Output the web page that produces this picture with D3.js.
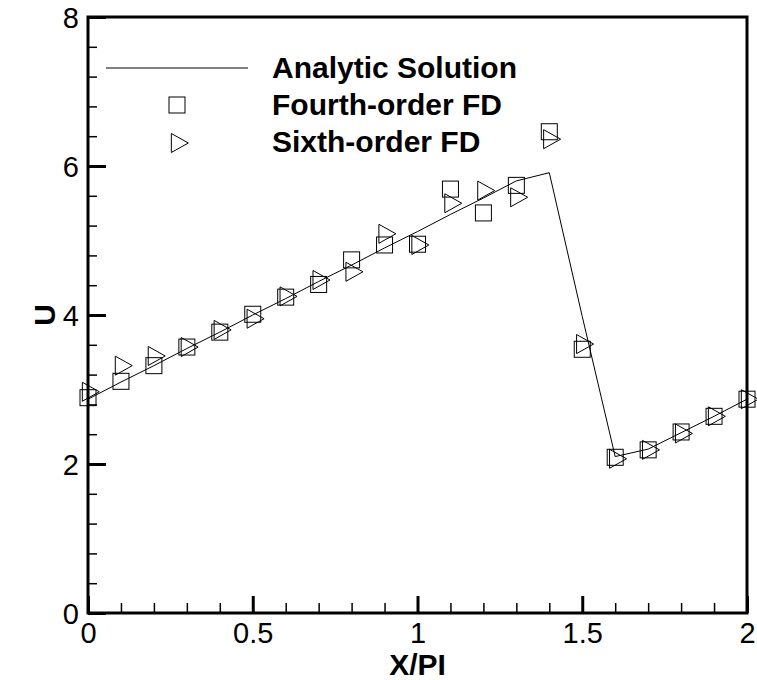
<!DOCTYPE html>
<html>
<head>
<meta charset="utf-8">
<script src="https://cdn.jsdelivr.net/npm/d3@7"></script>
<style>
  body { margin: 0; background: #fff; }
  svg { display: block; }
  text { font-family: "Liberation Sans", Arial, sans-serif; }
</style>
</head>
<body>
<div id="chart"></div>
<script>
// grid of X/PI positions, shared by all series
const xs = [0, 0.1, 0.2, 0.3, 0.4, 0.5, 0.6, 0.7, 0.8, 0.9, 1.0,
            1.1, 1.2, 1.3, 1.4, 1.5, 1.6, 1.7, 1.8, 1.9, 2.0];

const analytic = [2.87, 3.10, 3.32, 3.55, 3.77, 4.00, 4.22, 4.45, 4.67, 4.90, 5.12,
                  5.35, 5.57, 5.80, 5.91, 3.98, 2.10, 2.20, 2.42, 2.64, 2.87];
const fourth   = [2.89, 3.11, 3.32, 3.57, 3.77, 4.01, 4.24, 4.41, 4.74, 4.94, 4.95,
                  5.69, 5.37, 5.74, 6.46, 3.54, 2.09, 2.19, 2.43, 2.64, 2.87];
const sixth    = [2.97, 3.32, 3.45, 3.57, 3.80, 3.95, 4.25, 4.47, 4.58, 5.09, 4.94,
                  5.50, 5.67, 5.58, 6.36, 3.61, 2.07, 2.19, 2.41, 2.64, 2.87];

const xMajor = [0, 0.5, 1, 1.5, 2];
const xMinor = d3.range(0, 2.001, 0.1).filter(v => Math.abs(v * 2 - Math.round(v * 2)) > 1e-6);
const yMajor = [0, 2, 4, 6, 8];
const yMinor = d3.range(0, 8.001, 0.4).filter(v => Math.abs(v / 2 - Math.round(v / 2)) > 1e-6);

const legendNames = ["Analytic Solution", "Fourth-order FD", "Sixth-order FD"];

const W = 757, H = 680;
const margin = {top: 17, right: 10, bottom: 67, left: 88};
const width = W - margin.left - margin.right;
const height = H - margin.top - margin.bottom;

const svg = d3.select("#chart").append("svg")
    .attr("width", W)
    .attr("height", H);

const g = svg.append("g")
    .attr("transform", `translate(${margin.left},${margin.top})`);

const x = d3.scaleLinear().domain([0, 2]).range([0, width]);
const y = d3.scaleLinear().domain([0, 8]).range([height, 0]);

// minor ticks (inward)
g.append("g")
    .attr("transform", `translate(0,${height})`)
    .call(d3.axisBottom(x).tickValues(xMinor).tickSize(-10).tickFormat(""))
    .call(a => a.select(".domain").remove())
    .call(a => a.selectAll("line").attr("stroke-width", 1.5));

g.append("g")
    .call(d3.axisLeft(y).tickValues(yMinor).tickSize(-9).tickFormat(""))
    .call(a => a.select(".domain").remove())
    .call(a => a.selectAll("line").attr("stroke-width", 1.5));

// major ticks + labels
g.append("g")
    .attr("transform", `translate(0,${height})`)
    .call(d3.axisBottom(x).tickValues(xMajor).tickSize(-17).tickPadding(12)
        .tickFormat(d3.format("")))
    .call(a => a.select(".domain").remove())
    .call(a => a.selectAll("line").attr("stroke-width", 3))
    .call(a => a.selectAll("text")
        .attr("font-family", "Liberation Sans, Arial, sans-serif")
        .attr("font-size", 29).attr("fill", "#000")
        .attr("y", 9).attr("dy", "0.71em"));

g.append("g")
    .call(d3.axisLeft(y).tickValues(yMajor).tickSize(-18).tickPadding(8)
        .tickFormat(d3.format("")))
    .call(a => a.select(".domain").remove())
    .call(a => a.selectAll("line").attr("stroke-width", 3))
    .call(a => a.selectAll("text")
        .attr("font-family", "Liberation Sans, Arial, sans-serif")
        .attr("font-size", 29).attr("fill", "#000")
        .attr("x", -9).attr("dy", "0.36em"));

// frame
g.append("rect")
    .attr("x", 0).attr("y", 0)
    .attr("width", width).attr("height", height)
    .attr("fill", "none")
    .attr("stroke", "#000")
    .attr("stroke-width", 3);

// analytic line
const line = d3.line()
    .x((d, i) => x(xs[i]))
    .y(d => y(d));

g.append("path")
    .datum(analytic)
    .attr("fill", "none")
    .attr("stroke", "#000")
    .attr("stroke-width", 1)
    .attr("d", line);

const sq = 16;
function squareAt(sel, cx, cy) {
    sel.append("rect")
        .attr("x", cx - sq / 2).attr("y", cy - sq / 2)
        .attr("width", sq).attr("height", sq)
        .attr("fill", "none").attr("stroke", "#000").attr("stroke-width", 1);
}
const tw = 17, th = 19;
function triAt(sel, cx, cy) {
    const x0 = cx - tw / 3, x1 = cx + 2 * tw / 3;
    sel.append("path")
        .attr("d", `M${x0},${cy - th / 2}L${x1},${cy}L${x0},${cy + th / 2}Z`)
        .attr("fill", "none").attr("stroke", "#000").attr("stroke-width", 1);
}

const marks = g.append("g");
fourth.forEach((v, i) => squareAt(marks, x(xs[i]), y(v)));
sixth.forEach((v, i) => triAt(marks, x(xs[i]), y(v)));

// legend
const leg = svg.append("g");
leg.append("line")
    .attr("x1", 106).attr("x2", 248)
    .attr("y1", 68).attr("y2", 68)
    .attr("stroke", "#000").attr("stroke-width", 1);
squareAt(leg, 177, 105);
triAt(leg, 177, 143);
leg.selectAll("text.lg")
    .data(legendNames)
    .join("text")
    .attr("class", "lg")
    .attr("x", 272)
    .attr("y", (d, i) => 78 + i * 37)
    .attr("font-size", 30)
    .attr("font-weight", "bold")
    .text(d => d);

// axis titles
svg.append("text")
    .attr("x", margin.left + x(1))
    .attr("y", 675)
    .attr("text-anchor", "middle")
    .attr("font-size", 30)
    .attr("font-weight", "bold")
    .text("X/PI");

svg.append("text")
    .attr("transform", `translate(55,${margin.top + y(4)}) rotate(-90)`)
    .attr("text-anchor", "middle")
    .attr("font-size", 30)
    .attr("font-weight", "bold")
    .text("U");
</script>
</body>
</html>
